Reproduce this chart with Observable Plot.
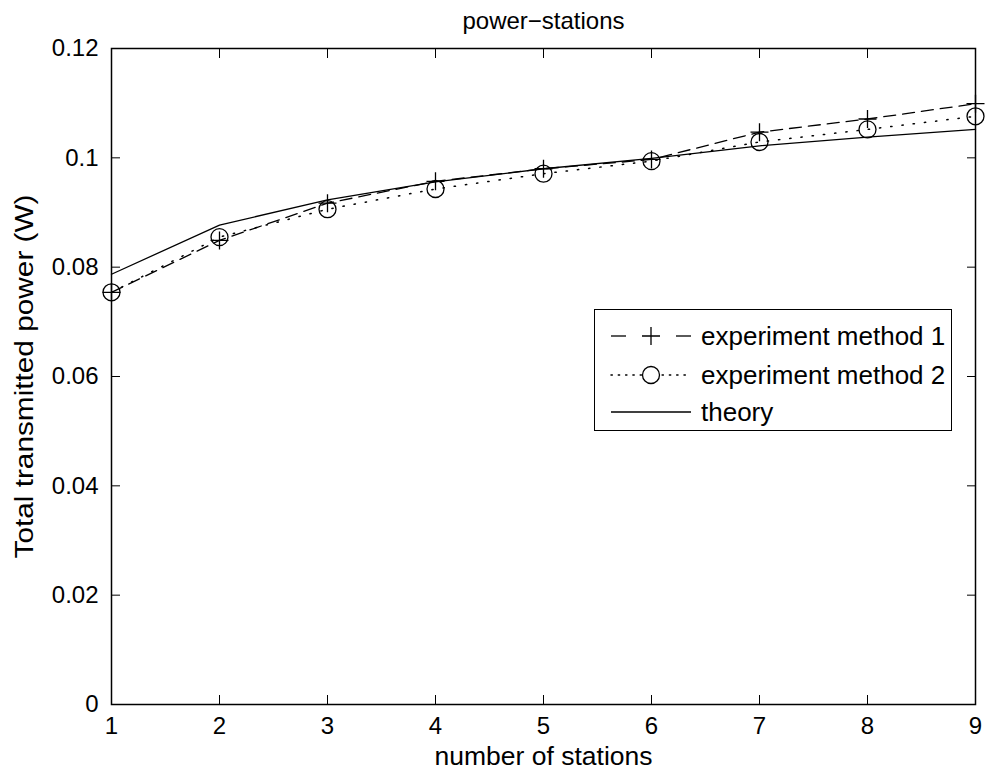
<!DOCTYPE html>
<html>
<head>
<meta charset="utf-8">
<script src="https://cdn.jsdelivr.net/npm/d3@7"></script>
<script src="https://cdn.jsdelivr.net/npm/@observablehq/plot@0.6"></script>
<style>
  body { margin: 0; background: #fff; }
  #chart { position: relative; width: 986px; height: 776px; font-family: "Liberation Sans", Arial, Helvetica, sans-serif; }
  #legend { position: absolute; left: 594px; top: 309px; width: 356px; height: 120px;
            border: 1.5px solid #000; background: #fff; }
  #legend .row { position: absolute; left: 0; height: 30px; display: flex; align-items: center; }
  #legend .row span { font-size: 26px; color: #000; margin-left: 8px; }
</style>
</head>
<body>
<div id="chart"></div>
<script>
// Number of stations on the x axis
const stations = [1, 2, 3, 4, 5, 6, 7, 8, 9];
// Total transmitted power (W)
const method1 = [0.0754, 0.0849, 0.0917, 0.0957, 0.0980, 0.0997, 0.1047, 0.1071, 0.1099];
const method2 = [0.0754, 0.0855, 0.0906, 0.0943, 0.0971, 0.0994, 0.1029, 0.1052, 0.1076];
const theory  = [0.0787, 0.0877, 0.0923, 0.0956, 0.0980, 0.0999, 0.1022, 0.1038, 0.1052];

const yTicks = [0, 0.02, 0.04, 0.06, 0.08, 0.10, 0.12];
const yTickLabels = ["0", "0.02", "0.04", "0.06", "0.08", "0.1", "0.12"];
const xTicks = stations;

const seriesNames = ["experiment method 1", "experiment method 2", "theory"];
const titleText = "power−stations";
const xLabel = "number of stations";
const yLabel = "Total transmitted power (W)";

const rows = (vals) => stations.map((s, i) => ({ s, v: vals[i] }));

// "+" marker drawn as a symbol
const plusSymbol = {
  draw(context, size) {
    const r = Math.sqrt(size / Math.PI);
    context.moveTo(-r, 0); context.lineTo(r, 0);
    context.moveTo(0, -r); context.lineTo(0, r);
  }
};

const tickFont = 24;
const labelFont = 25;
const W = 986, H = 776;
const mL = 111, mR = 11, mT = 48, mB = 72;

const chart = Plot.plot({
  width: W,
  height: H,
  marginLeft: mL,
  marginRight: mR,
  marginTop: mT,
  marginBottom: mB,
  style: { fontFamily: '"Liberation Sans", Arial, Helvetica, sans-serif', background: "#fff", color: "#000" },
  x: { domain: [1, 9] },
  y: { domain: [0, 0.12] },
  marks: [
    Plot.frame({ stroke: "#000", strokeWidth: 1.5 }),
    // inward ticks on all four sides
    Plot.axisX({ ticks: xTicks, tickSize: -9, tickPadding: 21, fontSize: tickFont, label: null, tickFormat: d => String(d) }),
    Plot.axisX({ anchor: "top", ticks: xTicks, tickSize: -9, tickFormat: () => "", label: null }),
    Plot.axisY({ ticks: yTicks, tickSize: -9, tickPadding: 22, fontSize: tickFont, label: null,
                 tickFormat: d => yTickLabels[yTicks.findIndex(t => Math.abs(t - d) < 1e-9)] }),
    Plot.axisY({ anchor: "right", ticks: yTicks, tickSize: -9, tickFormat: () => "", label: null }),
    // series
    Plot.line(rows(theory), { x: "s", y: "v", stroke: "#000", strokeWidth: 1.3 }),
    Plot.line(rows(method1), { x: "s", y: "v", stroke: "#000", strokeWidth: 1.3, strokeDasharray: "12,7" }),
    Plot.line(rows(method2), { x: "s", y: "v", stroke: "#000", strokeWidth: 1.5, strokeDasharray: "1.3,10", strokeLinecap: "round" }),
    Plot.dot(rows(method1), { x: "s", y: "v", symbol: plusSymbol, r: 9, stroke: "#000", strokeWidth: 1.3, fill: "none" }),
    Plot.dot(rows(method2), { x: "s", y: "v", r: 8.5, stroke: "#000", strokeWidth: 1.3, fill: "none" }),
    // titles
    Plot.text([titleText], { frameAnchor: "top", dy: -27, fontSize: 24, fill: "#000", lineAnchor: "middle" }),
    Plot.text([xLabel], { frameAnchor: "bottom", dy: 52, fontSize: labelFont, fill: "#000", lineAnchor: "middle" }),
    Plot.text([yLabel], { frameAnchor: "left", textAnchor: "middle", dx: -87, rotate: -90, fontSize: 25, fill: "#000", lineAnchor: "middle" })
  ]
});

const root = document.getElementById("chart");
root.appendChild(chart);

// the axis labels are set in a tall, narrow face: stretch them along their length
d3.select(chart).selectAll("text").each(function () {
  const t = this.textContent;
  if (t === yLabel) d3.select(this).attr("textLength", 364).attr("lengthAdjust", "spacingAndGlyphs");
  if (t === xLabel) d3.select(this).attr("textLength", 218).attr("lengthAdjust", "spacingAndGlyphs");
});

// Legend box
const legend = d3.select(root).append("div").attr("id", "legend");
const styles = [
  { dash: "12,7", marker: "plus" },
  { dash: "1.3,6", marker: "circle" },
  { dash: null, marker: null }
];
const rowTops = [11, 50, 87];
seriesNames.forEach((name, i) => {
  const row = legend.append("div").attr("class", "row").style("top", rowTops[i] + "px");
  const svg = row.append("svg").attr("width", 98).attr("height", 30);
  const st = styles[i];
  if (st.marker === "plus") {
    svg.append("line").attr("x1", 16).attr("x2", 31).attr("y1", 15).attr("y2", 15).attr("stroke", "#000").attr("stroke-width", 1.3);
    svg.append("line").attr("x1", 81).attr("x2", 96).attr("y1", 15).attr("y2", 15).attr("stroke", "#000").attr("stroke-width", 1.3);
    svg.append("path").attr("d", "M47,15H65M56,6V24").attr("stroke", "#000").attr("stroke-width", 1.3);
  } else {
    svg.append("line").attr("x1", 16).attr("x2", 96).attr("y1", 15).attr("y2", 15)
      .attr("stroke", "#000").attr("stroke-width", st.marker ? 1.5 : 1.3)
      .attr("stroke-dasharray", st.dash).attr("stroke-linecap", st.marker ? "round" : null);
    if (st.marker === "circle") {
      svg.append("circle").attr("cx", 56).attr("cy", 15).attr("r", 8.5).attr("fill", "#fff")
        .attr("stroke", "#000").attr("stroke-width", 1.3);
    }
  }
  row.append("span").text(name);
});
</script>
</body>
</html>
